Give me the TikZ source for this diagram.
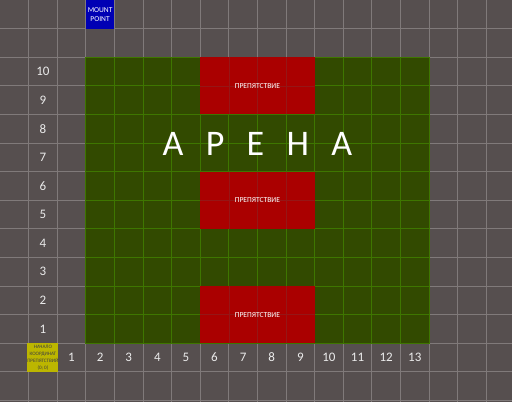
\documentclass[tikz,border=0pt]{standalone}
\usepackage{fontspec}
\setmainfont{Carlito}
\definecolor{floor}{RGB}{86,79,79}
\definecolor{floorline}{RGB}{128,122,122}
\definecolor{arenagreen}{RGB}{50,74,0}
\definecolor{arenaline}{RGB}{62,118,0}
\definecolor{obstred}{RGB}{170,0,0}
\definecolor{obstline}{RGB}{150,22,22}
\definecolor{mountblue}{RGB}{0,0,180}
\definecolor{originyellow}{RGB}{188,182,0}
\tikzset{
  cell/.style={minimum width=28.6pt, minimum height=28.6pt, inner sep=0pt},
  num/.style={text=white!92!black, font=\fontsize{13}{13}\selectfont},
  obstacle/.style={fill=obstred, minimum width=114.4pt, minimum height=57.2pt,
    inner sep=0pt, text=white, font=\fontsize{7.6}{8}\selectfont,
    path picture={
      \foreach \k in {-1,0,1}
        \draw[obstline, line width=0.6pt] ([xshift=\k*28.6pt]path picture bounding box.north) -- ([xshift=\k*28.6pt]path picture bounding box.south);
      \draw[obstline, line width=0.6pt] (path picture bounding box.west) -- (path picture bounding box.east);}},
  arenatitle/.style={text=white, font=\fontsize{36}{36}\selectfont, inner sep=0pt}}
\newcommand{\arenagap}{\hspace{0.62em}}

\begin{document}
\begin{tikzpicture}[x=28.6pt, y=-28.6pt]
 \useasboundingbox (0,0) rectangle (17.9,14.06);
 \fill[floor] (0,0) rectangle (17.9,14.06);
 \foreach \i in {1,...,17} \draw[floorline, line width=0.8pt] (\i,0) -- (\i,14.06);
 \foreach \j in {1,...,14} \draw[floorline, line width=0.8pt] (0,\j) -- (17.9,\j);

 \fill[arenagreen] (3,2) rectangle (15,12);
 \foreach \i in {4,...,14} \draw[arenaline, line width=0.8pt] (\i,2) -- (\i,12);
 \foreach \j in {3,...,11} \draw[arenaline, line width=0.8pt] (3,\j) -- (15,\j);
 \draw[arenaline, line width=0.8pt] (3,2) rectangle (15,12);

 \node[obstacle] (obstTop) at (9,3)  {ПРЕПЯТСТВИЕ};
 \node[obstacle] (obstMid) at (9,7)  {ПРЕПЯТСТВИЕ};
 \node[obstacle] (obstLow) at (9,11) {ПРЕПЯТСТВИЕ};

 \node[arenatitle] (arena) at (9,5.05) {А\arenagap Р\arenagap Е\arenagap Н\arenagap А};

 \foreach \n in {1,...,13} \node[num] (col\n) at (\n+1.5,12.5) {\n};
 \foreach \n in {1,...,10} \node[num] (row\n) at (1.5,12.5-\n) {\n};

 \node[cell, fill=mountblue, text=white, align=center,
       font=\fontsize{7.5}{9}\selectfont] (mount) at (3.5,0.5) {MOUNT\\POINT};
 \node[cell, fill=originyellow, text=black!75, align=center,
       font=\fontsize{5.1}{7}\selectfont] (origin) at (1.5,12.5)
       {НАЧАЛО\\КООРДИНАТ\\ПРЕПЯТСТВИЙ\\(0; 0)};
\end{tikzpicture}
\end{document}
